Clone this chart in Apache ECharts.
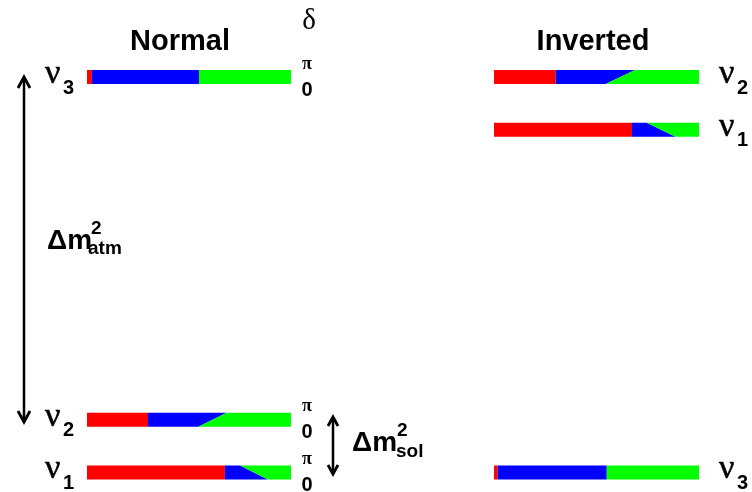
<!DOCTYPE html>
<html><head><meta charset="utf-8">
<script src="https://cdn.jsdelivr.net/npm/echarts@6/dist/echarts.min.js"></script>
<style>html,body{margin:0;padding:0;background:#fff}#c{width:752px;height:492px}</style>
</head><body><div id="c"></div>
<script>
// Mass levels (arbitrary units, nu1-nu2 gap = 1)
const normalLabels = ['3', '2', '1'];
const normalLevels = [7.5, 1, 0];
const normalRed = [0.024, 0.299, 0.676];      // |Ue|^2 (red)
const normalMuPi = [0.549, 0.685, 0.750];     // e+mu boundary at delta = pi (top)
const normalMuZero = [0.549, 0.546, 0.887];   // e+mu boundary at delta = 0 (bottom)

const invertedLabels = ['2', '1', '3'];
const invertedLevels = [7.5, 6.5, 0];
const invertedRed = [0.301, 0.673, 0.018];
const invertedMuPi = [0.688, 0.745, 0.550];
const invertedMuZero = [0.545, 0.886, 0.550];

const titles = ['Normal', 'Inverted'];
const deltaTicks = ['π', '0'];

function rows(levels, red, mp, mz) {
  return levels.map((l, i) => [l, red[i], mp[i], mz[i]]);
}

function makeRender(labels, side, showDelta) {
  return function (params, api) {
    const lvl = api.value(0);
    const red = api.value(1), mp = api.value(2), mz = api.value(3);
    const yc = api.coord([0, lvl])[1];
    const h = 14;
    const top = yc - h / 2, bot = yc + h / 2;
    const X = v => api.coord([v, lvl])[0];
    const x0 = X(0), xr = X(red), xt = X(mp), xb = X(mz), x1 = X(1);
    const children = [
      { type: 'polygon', shape: { points: [[x0, top], [xr, top], [xr, bot], [x0, bot]] }, style: { fill: '#ff0000' } },
      { type: 'polygon', shape: { points: [[xr, top], [xt, top], [xb, bot], [xr, bot]] }, style: { fill: '#0000ff' } },
      { type: 'polygon', shape: { points: [[xt, top], [x1, top], [x1, bot], [xb, bot]] }, style: { fill: '#00ff00' } }
    ];
    const lab = labels[params.dataIndex];
    const nuX = side === 'left' ? x0 - 42 : x1 + 20;
    const subX = side === 'left' ? x0 - 24 : x1 + 38;
    children.push({ type: 'text', style: { text: 'ν', x: nuX, y: yc - 3, align: 'left', verticalAlign: 'middle', font: '34px "Liberation Serif"', fill: '#000', stroke: '#000', lineWidth: 0.6 } });
    children.push({ type: 'text', style: { text: lab, x: subX, y: yc + 11, align: 'left', verticalAlign: 'middle', font: 'bold 20px "Liberation Sans"', fill: '#000' } });
    if (showDelta) {
      children.push({ type: 'text', style: { text: deltaTicks[0], x: x1 + 16, y: yc - 13, align: 'center', verticalAlign: 'middle', font: 'bold 18px "Liberation Serif"', fill: '#000' } });
      children.push({ type: 'text', style: { text: deltaTicks[1], x: x1 + 16, y: yc + 13, align: 'center', verticalAlign: 'middle', font: 'bold 20px "Liberation Sans"', fill: '#000' } });
    }
    return { type: 'group', children: children };
  };
}

const chart = echarts.init(document.getElementById('c'), null, { renderer: 'canvas' });
const yAx = i => ({ type: 'value', gridIndex: i, min: 0, max: 7.5, show: false });
const xAx = i => ({ type: 'value', gridIndex: i, min: 0, max: 1, show: false });

function arrow(x, y1, y2, hw, hl) {
  return [
    { type: 'line', shape: { x1: x, y1: y1, x2: x, y2: y2 }, style: { stroke: '#000', lineWidth: 2.5 } },
    { type: 'polyline', shape: { points: [[x - hw, y1 + hl], [x, y1], [x + hw, y1 + hl]] }, style: { stroke: '#000', lineWidth: 2.8, fill: null } },
    { type: 'polyline', shape: { points: [[x - hw, y2 - hl], [x, y2], [x + hw, y2 - hl]] }, style: { stroke: '#000', lineWidth: 2.8, fill: null } }
  ];
}

chart.setOption({
  animation: false,
  grid: [
    { left: 87, width: 204, top: 77, height: 395.5 },
    { left: 494, width: 205, top: 77, height: 395.5 }
  ],
  xAxis: [xAx(0), xAx(1)],
  yAxis: [yAx(0), yAx(1)],
  series: [
    { type: 'custom', xAxisIndex: 0, yAxisIndex: 0, clip: false, renderItem: makeRender(normalLabels, 'left', true), data: rows(normalLevels, normalRed, normalMuPi, normalMuZero) },
    { type: 'custom', xAxisIndex: 1, yAxisIndex: 1, clip: false, renderItem: makeRender(invertedLabels, 'right', false), data: rows(invertedLevels, invertedRed, invertedMuPi, invertedMuZero) }
  ],
  graphic: [
    { type: 'text', style: { text: titles[0], x: 180, y: 42, align: 'center', verticalAlign: 'middle', font: 'bold 29px "Liberation Sans"', fill: '#000' } },
    { type: 'text', style: { text: titles[1], x: 593, y: 42, align: 'center', verticalAlign: 'middle', font: 'bold 29px "Liberation Sans"', fill: '#000' } },
    { type: 'text', style: { text: 'δ', x: 309, y: 21, align: 'center', verticalAlign: 'middle', font: '29px "Liberation Serif"', fill: '#000' } },
    { type: 'text', style: { text: 'Δm', x: 47, y: 241, align: 'left', verticalAlign: 'middle', font: 'bold 28px "Liberation Sans"', fill: '#000' } },
    { type: 'text', style: { text: '2', x: 91, y: 229, align: 'left', verticalAlign: 'middle', font: 'bold 19px "Liberation Sans"', fill: '#000' } },
    { type: 'text', style: { text: 'atm', x: 88, y: 249, align: 'left', verticalAlign: 'middle', font: 'bold 19px "Liberation Sans"', fill: '#000' } },
    { type: 'text', style: { text: 'Δm', x: 352, y: 443, align: 'left', verticalAlign: 'middle', font: 'bold 28px "Liberation Sans"', fill: '#000' } },
    { type: 'text', style: { text: '2', x: 397, y: 431, align: 'left', verticalAlign: 'middle', font: 'bold 19px "Liberation Sans"', fill: '#000' } },
    { type: 'text', style: { text: 'sol', x: 396, y: 452, align: 'left', verticalAlign: 'middle', font: 'bold 19px "Liberation Sans"', fill: '#000' } }
  ].concat(arrow(24, 77, 422, 6, 11), arrow(333, 417, 474, 5, 9))
});
</script>
</body></html>
